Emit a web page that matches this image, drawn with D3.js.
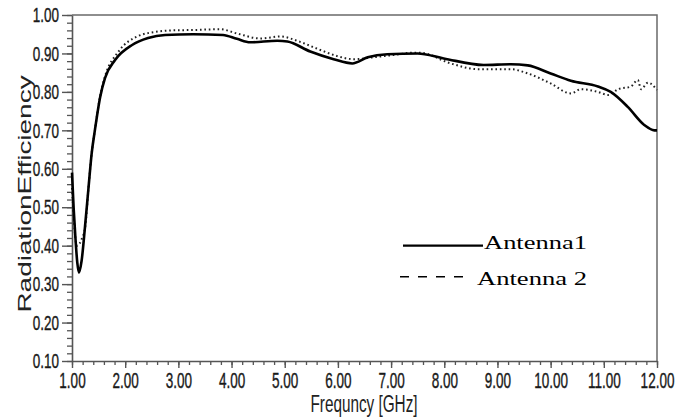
<!DOCTYPE html>
<html>
<head>
<meta charset="utf-8">
<script src="https://cdn.jsdelivr.net/npm/d3@7"></script>
<style>
  body { margin: 0; background: #fff; }
  svg { display: block; }
</style>
</head>
<body>
<script>
const width = 691;
const height = 420;
const margin = {top: 15, right: 35, bottom: 59, left: 72};

// Antenna 1 (solid)
const freq1 = [1.00, 1.03, 1.06, 1.10, 1.13, 1.18, 1.245, 1.31, 1.37, 1.43, 1.53, 1.62, 1.81, 2.13, 2.43, 2.75,
  3.28, 3.84, 4.10, 4.35, 4.86, 5.05, 5.48, 5.92, 6.27, 6.56, 6.93, 7.50, 7.99, 8.74, 9.25, 9.57, 10.00,
  10.38, 10.89, 11.13, 11.45, 11.76, 11.95, 12.00];
const eff1 = [0.59, 0.50, 0.43, 0.355, 0.33, 0.36, 0.45, 0.55, 0.64, 0.70, 0.787, 0.836, 0.883, 0.922, 0.94, 0.948,
  0.95, 0.948, 0.938, 0.929, 0.933, 0.931, 0.905, 0.885, 0.874, 0.89, 0.898, 0.90, 0.887, 0.87, 0.872, 0.869, 0.848,
  0.829, 0.814, 0.80, 0.761, 0.714, 0.70, 0.70];

// Antenna 2 (dashed)
const freq2 = [1.00, 1.04, 1.09, 1.14, 1.19, 1.25, 1.31, 1.37, 1.43, 1.53, 1.62, 1.87, 2.24, 2.62, 2.88,
  3.28, 3.79, 4.10, 4.54, 4.92, 5.29, 5.67, 5.99, 6.29, 6.67, 7.05, 7.42, 7.55, 8.12, 8.63, 9.25, 9.57,
  10.00, 10.38, 10.57, 10.89, 11.08, 11.27, 11.51, 11.64, 11.70, 11.83, 12.00];
const eff2 = [0.55, 0.46, 0.40, 0.405, 0.42, 0.45, 0.55, 0.64, 0.70, 0.79, 0.84, 0.904, 0.945, 0.957, 0.96,
  0.961, 0.963, 0.952, 0.939, 0.944, 0.93, 0.909, 0.893, 0.885, 0.89, 0.896, 0.902, 0.902, 0.874, 0.859, 0.859, 0.848,
  0.822, 0.796, 0.807, 0.80, 0.792, 0.807, 0.814, 0.831, 0.807, 0.824, 0.805];

const xTicks = [1, 2, 3, 4, 5, 6, 7, 8, 9, 10, 11, 12];
const yTicks = [0.1, 0.2, 0.3, 0.4, 0.5, 0.6, 0.7, 0.8, 0.9, 1.0];
const seriesNames = ["Antenna1", "Antenna 2"];

const x = d3.scaleLinear().domain([1, 12]).range([margin.left, width - margin.right + 1]);
const y = d3.scaleLinear().domain([0.1, 1.0]).range([height - margin.bottom, margin.top]);

const svg = d3.select("body").append("svg")
    .attr("width", width)
    .attr("height", height);

const x0 = x.range()[0], x1 = x.range()[1];
const yTop = y.range()[1], yBot = y.range()[0];

// frame top + right
svg.append("path")
    .attr("d", `M${x0},${yTop}H${x1}V${yBot}`)
    .attr("fill", "none")
    .attr("stroke", "#6a6a6a")
    .attr("stroke-width", 1.5);

// minor ticks
const yMinor = d3.range(0.1, 1.0001, 0.02);
const xMinor = d3.range(1, 12.0001, 0.2);

svg.append("g")
    .attr("transform", `translate(${x0},0)`)
    .call(d3.axisLeft(y).tickValues(yMinor).tickSize(5).tickFormat(""))
    .call(g => g.select(".domain").remove())
    .selectAll("line").attr("stroke", "#555").attr("stroke-width", 1.3);

svg.append("g")
    .attr("transform", `translate(0,${yBot})`)
    .call(d3.axisBottom(x).tickValues(xMinor).tickSize(4).tickFormat(""))
    .call(g => g.select(".domain").remove())
    .selectAll("line").attr("stroke", "#555").attr("stroke-width", 1.3);

// y axis
const gy = svg.append("g")
    .attr("transform", `translate(${x0},0)`)
    .call(d3.axisLeft(y).tickValues(yTicks).tickSize(10).tickSizeOuter(0).tickPadding(3).tickFormat(d3.format(".2f")));
gy.select(".domain").attr("stroke", "#555").attr("stroke-width", 1.6);
gy.selectAll("line").attr("stroke", "#555").attr("stroke-width", 1.4);
gy.selectAll("text")
    .attr("font-family", "'Liberation Sans', Arial, sans-serif")
    .attr("font-size", 13.5)
    .attr("fill", "#1a1a1a")
    .attr("stroke", "#1a1a1a")
    .attr("stroke-width", 0.25)
    .attr("transform", "scale(1,1.55)");

// x axis
const gx = svg.append("g")
    .attr("transform", `translate(0,${yBot})`)
    .call(d3.axisBottom(x).tickValues(xTicks).tickSize(7).tickSizeOuter(0).tickFormat(d3.format(".2f")));
gx.select(".domain").attr("stroke", "#555").attr("stroke-width", 1.6);
gx.selectAll("line").attr("stroke", "#555").attr("stroke-width", 1.4);
gx.selectAll("text")
    .attr("y", 7)
    .attr("font-family", "'Liberation Sans', Arial, sans-serif")
    .attr("font-size", 13.5)
    .attr("fill", "#1a1a1a")
    .attr("stroke", "#1a1a1a")
    .attr("stroke-width", 0.25)
    .attr("transform", "scale(1,1.6)");

// axis titles
svg.append("text")
    .attr("transform", `translate(31,194) scale(1,1.58) rotate(-90)`)
    .attr("text-anchor", "middle")
    .attr("font-family", "'Liberation Sans', Arial, sans-serif")
    .attr("font-size", 17.7)
    .attr("fill", "#222")
    .text("RadiationEfficiency");

svg.append("text")
    .attr("transform", `translate(${(x0 + x1) / 2 - 0.5},412) scale(1,1.6)`)
    .attr("text-anchor", "middle")
    .attr("font-family", "'Liberation Sans', Arial, sans-serif")
    .attr("font-size", 15.3)
    .attr("fill", "#222")
    .text("Frequncy [GHz]");

// lines
const line = d3.line()
    .x(d => x(d[0]))
    .y(d => y(d[1]))
    .curve(d3.curveMonotoneX);

svg.append("path")
    .datum(d3.zip(freq2, eff2))
    .attr("fill", "none")
    .attr("stroke", "#222")
    .attr("stroke-width", 2)
    .attr("stroke-dasharray", "1.6,2.8")
    .attr("d", line);

svg.append("path")
    .datum(d3.zip(freq1, eff1))
    .attr("fill", "none")
    .attr("stroke", "#000")
    .attr("stroke-width", 2.6)
    .attr("stroke-linejoin", "round")
    .attr("d", line);

// legend
const legend = svg.append("g");
const legRows = [
  {name: seriesNames[0], y: 245.7, x0: 403, x1: 483, tx: 484, ty: 248.5, len: 103, dash: null, w: 2.2},
  {name: seriesNames[1], y: 276.7, x0: 400, x1: 472, tx: 477, ty: 284.5, len: 110, dash: "9,9", w: 1.4}
];
legRows.forEach(r => {
  legend.append("line")
      .attr("x1", r.x0).attr("x2", r.x1)
      .attr("y1", r.y).attr("y2", r.y)
      .attr("stroke", "#000")
      .attr("stroke-width", r.w)
      .attr("stroke-dasharray", r.dash);
  legend.append("text")
      .attr("x", r.tx).attr("y", r.ty)
      .attr("font-family", "'Liberation Serif', 'Times New Roman', serif")
      .attr("font-size", 19.6)
      .attr("textLength", r.len)
      .attr("lengthAdjust", "spacingAndGlyphs")
      .attr("fill", "#000")
      .text(r.name);
});
</script>
</body>
</html>
